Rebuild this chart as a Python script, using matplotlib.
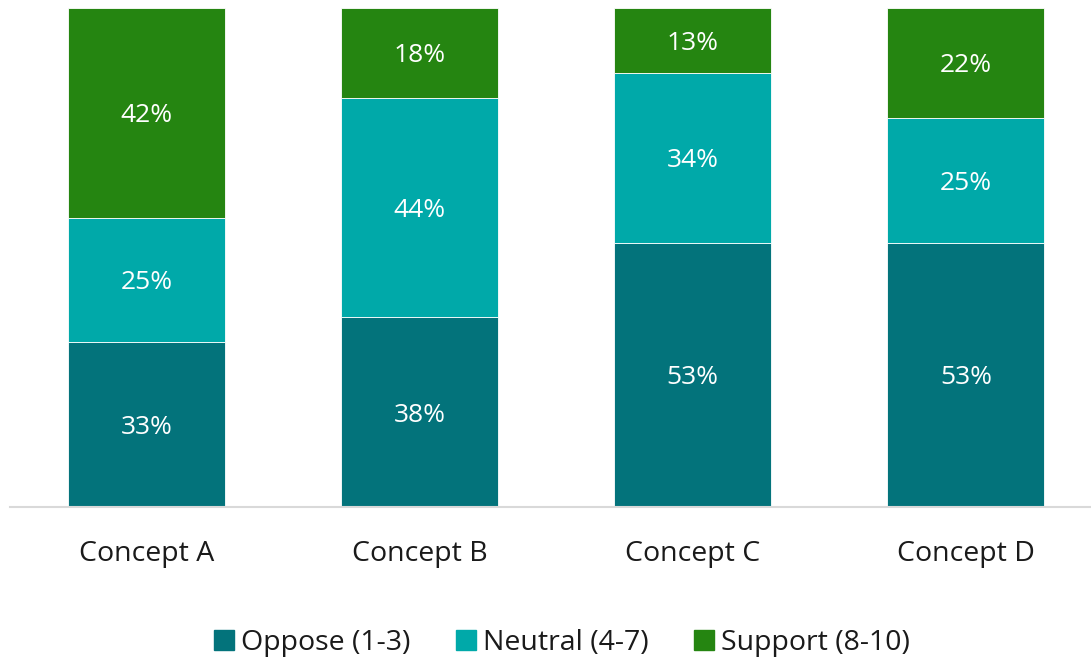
import matplotlib.pyplot as plt
from matplotlib.patches import Patch
import numpy as np

plt.rcParams['font.family'] = ['Open Sans', 'DejaVu Sans']

concepts = ['Concept A', 'Concept B', 'Concept C', 'Concept D']
oppose = [33, 38, 53, 53]
neutral = [25, 44, 34, 25]
support = [42, 18, 13, 22]
series_names = ['Oppose (1-3)', 'Neutral (4-7)', 'Support (8-10)']
colors = ['#03737b', '#00a9a9', '#258511']

fig = plt.figure(figsize=(10.91, 6.59), dpi=100)
ax = fig.add_axes([0.009, 0.2307, 0.991, 0.7572])

x = np.arange(len(concepts))
bottom = np.zeros(len(concepts))
for vals, c in zip([oppose, neutral, support], colors):
    vals = np.array(vals)
    ax.bar(x, vals, width=0.575, bottom=bottom, color=c,
           edgecolor='white', linewidth=0.6)
    for xi, b, v in zip(x, bottom, vals):
        ax.text(xi, b + v / 2, f'{v}%', ha='center', va='center_baseline',
                color='white', fontsize=19)
    bottom += vals

ax.set_xlim(-0.5, 3.458)
ax.set_ylim(0, 100)
for s in ['top', 'right', 'left']:
    ax.spines[s].set_visible(False)
ax.spines['bottom'].set_color('#d9d9d9')
ax.spines['bottom'].set_linewidth(1.5)
ax.set_yticks([])
ax.set_xticks(x)
ax.set_xticklabels(concepts, fontsize=20.5, color='#1a1a1a')
ax.tick_params(axis='x', length=0, pad=24)

handles = [Patch(color=c) for c in colors]
fig.legend(handles, series_names, loc='center', bbox_to_anchor=(0.515, 0.025),
           ncol=3, frameon=False, fontsize=20.5, handlelength=0.7,
           handleheight=0.7, handletextpad=0.25, columnspacing=1.6,
           labelcolor='#1a1a1a')

fig.savefig('out.png', dpi=100)
